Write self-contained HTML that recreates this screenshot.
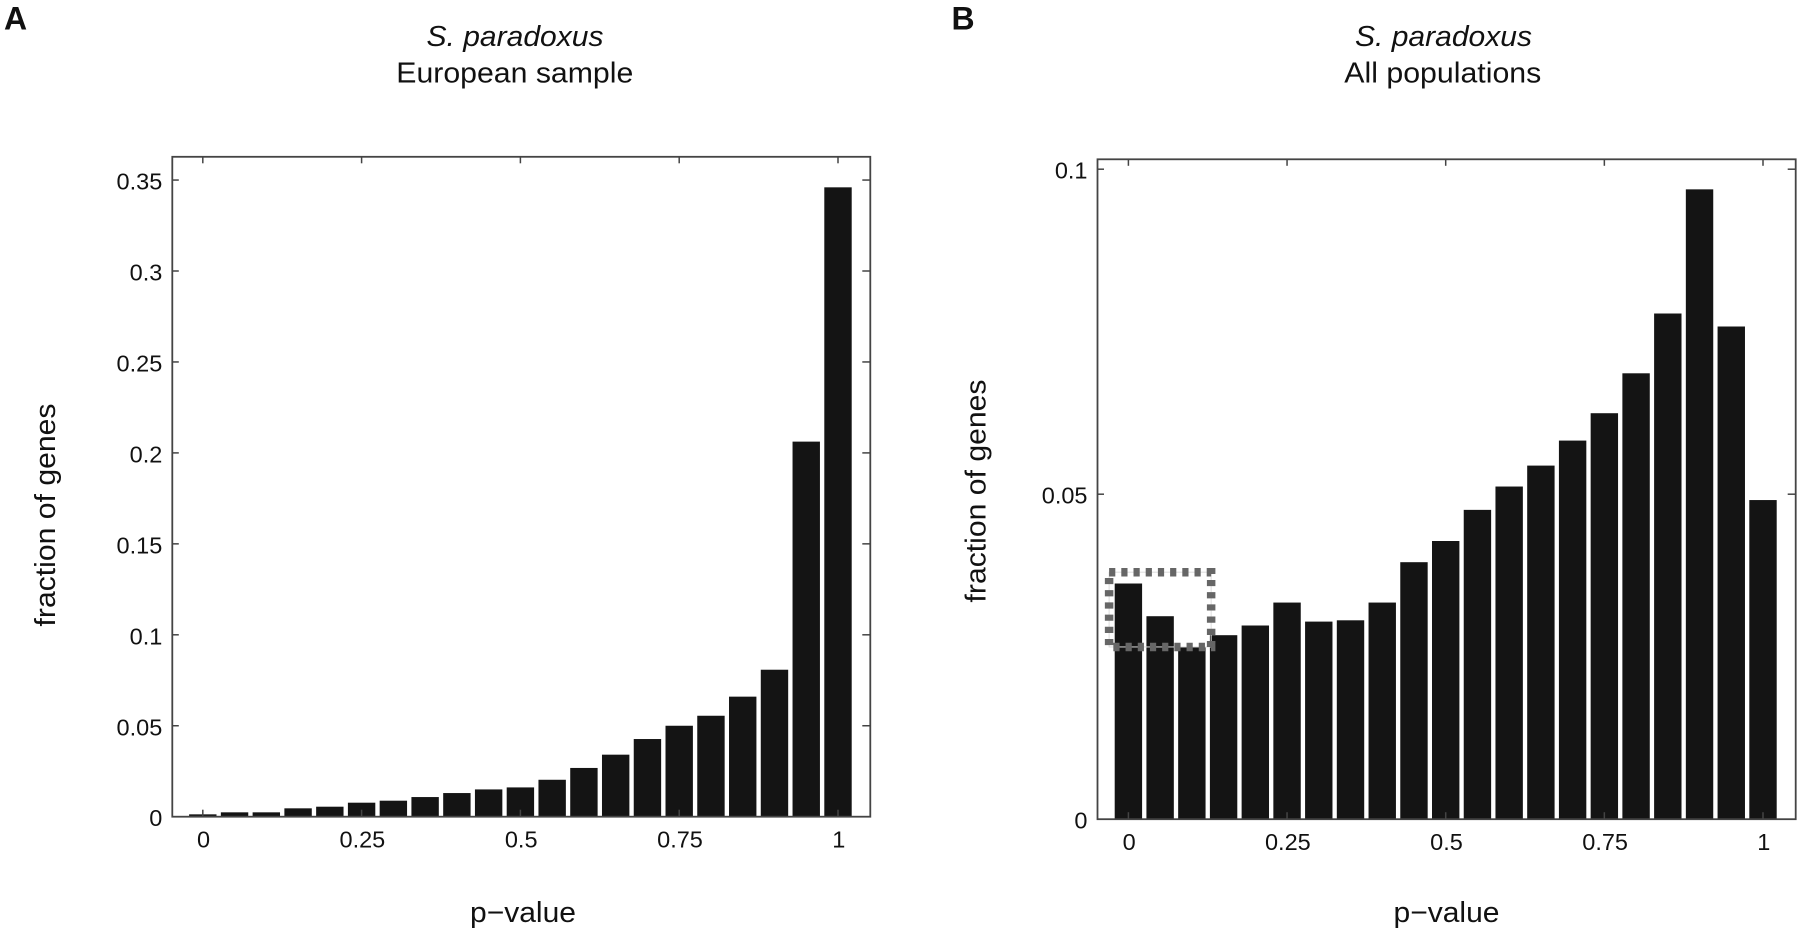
<!DOCTYPE html>
<html lang="en">
<head>
<meta charset="utf-8">
<title>S. paradoxus p-value histograms</title>
<style>
html,body{margin:0;padding:0;background:#fff;}
svg{display:block;font-family:"Liberation Sans",Arial,sans-serif;fill:#111;}
.tick-label{font-size:23.5px;}
.title{font-size:28.5px;text-anchor:middle;}
.axis-title{font-size:28.5px;text-anchor:middle;}
.panel{font-size:32px;font-weight:bold;}
</style>
</head>
<body>
<svg id="figure" width="1800" height="933" viewBox="0 0 1800 933">
  <text class="panel" x="4" y="29.5">A</text>
  <text class="panel" x="951.5" y="29.5">B</text>

  <text class="title" x="515" y="46" font-style="italic" textLength="177" lengthAdjust="spacingAndGlyphs">S. paradoxus</text>
  <text class="title" x="514.8" y="82.3" textLength="237" lengthAdjust="spacingAndGlyphs">European sample</text>
  <text class="title" x="1443.5" y="46" font-style="italic" textLength="177" lengthAdjust="spacingAndGlyphs">S. paradoxus</text>
  <text class="title" x="1442.8" y="82.3" textLength="197" lengthAdjust="spacingAndGlyphs">All populations</text>

  <text class="axis-title" transform="translate(55,515) rotate(-90)" textLength="223" lengthAdjust="spacingAndGlyphs">fraction of genes</text>
  <text class="axis-title" transform="translate(985.5,491) rotate(-90)" textLength="223" lengthAdjust="spacingAndGlyphs">fraction of genes</text>
  <text class="axis-title" x="523" y="922" textLength="106" lengthAdjust="spacingAndGlyphs">p−value</text>
  <text class="axis-title" x="1446.5" y="922" textLength="106" lengthAdjust="spacingAndGlyphs">p−value</text>

  <g id="panel-a"></g>
  <g id="panel-b"></g>
</svg>
<script>
var pValues = [0,0.05,0.1,0.15,0.2,0.25,0.3,0.35,0.4,0.45,0.5,0.55,0.6,0.65,0.7,0.75,0.8,0.85,0.9,0.95,1];
var europeanFractions = [0.0013,0.0024,0.0024,0.0046,0.0055,0.0077,0.0088,0.0108,0.013,0.015,0.0161,0.0203,0.0268,0.0341,0.0427,0.05,0.0555,0.066,0.0808,0.2062,0.346];
var allPopulationFractions = [0.03626,0.03123,0.02651,0.02831,0.0298,0.03333,0.0304,0.0306,0.03333,0.03954,0.0428,0.04759,0.05118,0.0544,0.05825,0.06246,0.0686,0.0778,0.0969,0.0758,0.0491];
var xTickValues = [0,0.25,0.5,0.75,1];
var xTickLabels = ['0','0.25','0.5','0.75','1'];
var europeanYTickValues = [0,0.05,0.1,0.15,0.2,0.25,0.3,0.35];
var europeanYTickLabels = ['0','0.05','0.1','0.15','0.2','0.25','0.3','0.35'];
var allYTickValues = [0,0.05,0.1];
var allYTickLabels = ['0','0.05','0.1'];
var highlightXRange = [-0.0304,0.1304];
var highlightYRange = [0.0265,0.038];

var NS = 'http://www.w3.org/2000/svg';
var FRAME = '#444';

function make(tag, parent) {
  var el = document.createElementNS(NS, tag);
  parent.appendChild(el);
  return el;
}

function segment(parent, x1, y1, x2, y2, width) {
  var el = make('line', parent);
  el.setAttribute('x1', x1);
  el.setAttribute('y1', y1);
  el.setAttribute('x2', x2);
  el.setAttribute('y2', y2);
  el.setAttribute('stroke', FRAME);
  el.setAttribute('stroke-width', width);
  return el;
}

function label(parent, x, y, text, anchor) {
  var el = make('text', parent);
  el.setAttribute('class', 'tick-label');
  el.setAttribute('x', x);
  el.setAttribute('y', y);
  el.setAttribute('text-anchor', anchor);
  el.textContent = text;
  return el;
}

function drawPanel(root, geom, values, yTicks, yLabels) {
  function xScale(v) { return geom.x0 + (geom.x1 - geom.x0) * v; }
  function yScale(v) { return geom.bottom - geom.unit * v; }

  for (var i = 0; i < pValues.length; i++) {
    var bar = make('rect', root);
    
    
    bar.setAttribute('x', (xScale(pValues[i]) - geom.barWidth / 2).toFixed(2));
    bar.setAttribute('y', yScale(values[i]).toFixed(2));
    bar.setAttribute('width', geom.barWidth);
    bar.setAttribute('height', (geom.unit * values[i]).toFixed(2));
    bar.setAttribute('fill', '#141414');
  }

  var frame = make('rect', root);
  
  
  frame.setAttribute('x', geom.left);
  frame.setAttribute('y', geom.top);
  frame.setAttribute('width', geom.right - geom.left);
  frame.setAttribute('height', geom.bottom - geom.top);
  frame.setAttribute('fill', 'none');
  frame.setAttribute('stroke', FRAME);
  frame.setAttribute('stroke-width', '1.8');

  for (var a = 0; a < xTickValues.length; a++) {
    var tx = xScale(xTickValues[a]);
    var topTick = segment(root, tx, geom.top, tx, geom.top + 6.5, 1.5);
    
    
    var bottomTick = segment(root, tx, geom.bottom, tx, geom.bottom - 7, 1.5);
    
    
    var xl = label(root, tx + 0.8, geom.bottom + 31, xTickLabels[a], 'middle');
    
    
  }

  for (var b = 0; b < yTicks.length; b++) {
    var ty = yScale(yTicks[b]);
    if (yTicks[b] !== 0) {
      var leftTick = segment(root, geom.left, ty, geom.left + 6.5, ty, 1.5);
      
      
      var rightTick = segment(root, geom.right, ty, geom.right - 8, ty, 1.5);
      
      
    }
    var yl = label(root, geom.left - 10, ty + 9.5, yLabels[b], 'end');
    
    
  }

  return { x: xScale, y: yScale };
}

var scaleA = drawPanel(document.getElementById('panel-a'),
  { left: 172.3, right: 870.3, top: 156.8, bottom: 816.7, x0: 202.8, x1: 838, unit: 1819, barWidth: 27.4 },
  europeanFractions, europeanYTickValues, europeanYTickLabels);

var panelB = document.getElementById('panel-b');
var scaleB = drawPanel(panelB,
  { left: 1097.5, right: 1795.7, top: 159.3, bottom: 819.2, x0: 1128.4, x1: 1763, unit: 6500, barWidth: 27.4 },
  allPopulationFractions, allYTickValues, allYTickLabels);

var hx = scaleB.x(highlightXRange[0]);
var hw = scaleB.x(highlightXRange[1]) - hx;
var hy = scaleB.y(highlightYRange[1]);
var hh = scaleB.y(highlightYRange[0]) - hy;

var halo = make('rect', panelB);


halo.setAttribute('x', hx);
halo.setAttribute('y', hy);
halo.setAttribute('width', hw);
halo.setAttribute('height', hh);
halo.setAttribute('fill', 'none');
halo.setAttribute('stroke', '#ddd');
halo.setAttribute('stroke-width', '1');

var box = make('rect', panelB);


box.setAttribute('x', hx);
box.setAttribute('y', hy);
box.setAttribute('width', hw);
box.setAttribute('height', hh);
box.setAttribute('fill', 'none');
box.setAttribute('stroke', '#666');
box.setAttribute('stroke-width', '8.5');
box.setAttribute('stroke-dasharray', '6.2 6');
</script>
</body>
</html>
